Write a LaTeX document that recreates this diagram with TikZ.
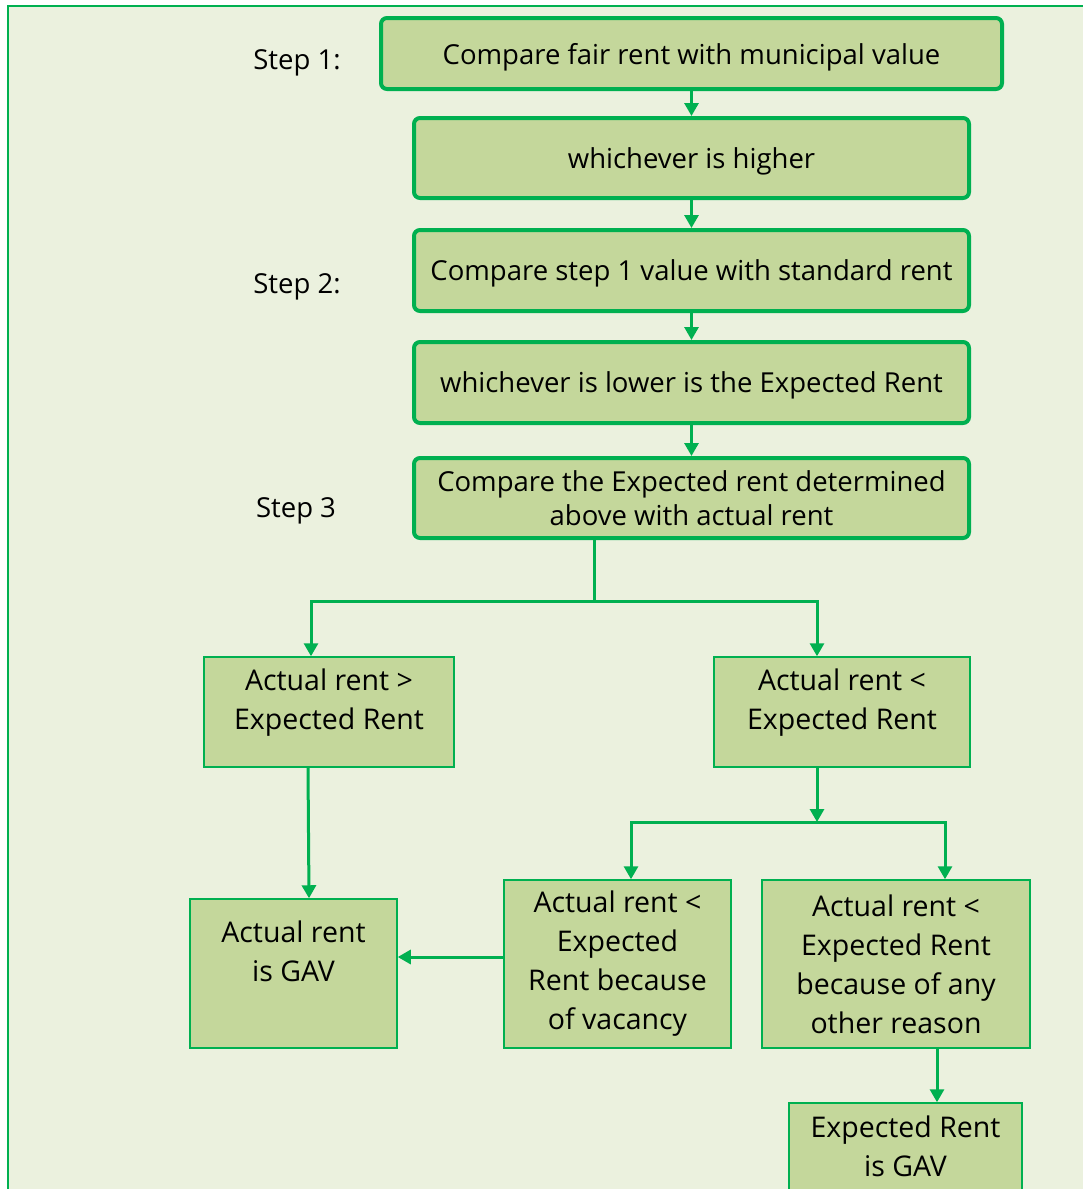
\documentclass[tikz,border=0pt]{standalone}
\usepackage{fontspec}
\setmainfont{Open Sans}
\usetikzlibrary{arrows.meta}
\definecolor{frameG}{HTML}{00B050}
\definecolor{bgG}{HTML}{EBF1DE}
\definecolor{boxG}{HTML}{C4D79B}
\newcommand{\topalign}[4]{\parbox[c][#1][t]{#2}{\centering\vspace{#3}#4}}
\tikzset{
  topbox/.style={draw=frameG, fill=boxG, line width=4pt, rounded corners=6pt, inner sep=0pt, align=center, font=\fontsize{27.5}{34}\selectfont},
  lowbox/.style={draw=frameG, fill=boxG, line width=1.5pt, inner sep=0pt, align=center, font=\fontsize{28.5}{39}\selectfont},
  steplbl/.style={font=\fontsize{27.5}{34}\selectfont, inner sep=0pt},
  conn/.style={draw=frameG, line width=3pt},
  arr/.style={conn, -{Triangle[width=14pt,length=13pt]}}
}
\begin{document}
\begin{tikzpicture}[x=1pt,y=-1pt]
\useasboundingbox (0,0) rectangle (1083,1189);
\fill[white] (0,0) rectangle (1083,1189);
\fill[bgG] (8,6) rectangle (1100,1200);
\draw[frameG, line width=2.5pt] (8,1200) -- (8,6) -- (1100,6);

\node[steplbl] (s1) at (297,63) {Step 1:};
\node[steplbl] (s2) at (297,287) {Step 2:};
\node[steplbl] (s3) at (296,511) {Step 3};

\node[topbox, text depth=0pt, minimum width=621pt, minimum height=71pt] (b1) at (691.5,53.5) {Compare fair rent with municipal value};
\node[topbox, text depth=0pt, minimum width=555pt, minimum height=80pt] (b2) at (691.5,158) {whichever is higher};
\node[topbox, text depth=0pt, minimum width=555pt, minimum height=81pt] (b3) at (691.5,270.5) {Compare step 1 value with standard rent};
\node[topbox, text depth=0pt, minimum width=555pt, minimum height=81pt] (b4) at (691.5,382.5) {whichever is lower is the Expected Rent};
\node[topbox, minimum width=555pt, minimum height=80pt] (b5) at (691.5,498) {Compare the Expected rent determined\\above with actual rent};

\node[lowbox, minimum width=250pt, minimum height=110pt] (l1) at (329,712) {\topalign{110pt}{250pt}{12pt}{Actual rent >\\Expected Rent}};
\node[lowbox, minimum width=256pt, minimum height=110pt] (r1) at (842,712) {\topalign{110pt}{256pt}{12pt}{Actual rent <\\Expected Rent}};
\node[lowbox, minimum width=207pt, minimum height=149pt] (gav) at (293.5,973.5) {\topalign{149pt}{207pt}{22pt}{Actual rent\\is GAV}};
\node[lowbox, minimum width=227pt, minimum height=168pt] (vac) at (617.5,964) {Actual rent <\\Expected\\Rent because\\of vacancy};
\node[lowbox, minimum width=268pt, minimum height=168pt] (oth) at (896,964) {Actual rent <\\Expected Rent\\because of any\\other reason};
\node[lowbox, minimum width=233pt, minimum height=90pt] (egav) at (905.5,1148) {\topalign{90pt}{233pt}{13pt}{Expected Rent\\is GAV}};

\coordinate (j1) at (594,601);
\coordinate (j2) at (817,822);
\coordinate (va) at ([yshift=7pt]vac.west);

\draw[arr] (b1) -- (b2);
\draw[arr] (b2) -- (b3);
\draw[arr] (b3) -- (b4);
\draw[arr] (b4) -- (b5);
\draw[conn] (b5.south -| j1) -- (j1);
\draw[arr] (j1) -| ([xshift=-18pt]l1.north);
\draw[arr] (j1) -| ([xshift=-25pt]r1.north);
\draw[arr] ([xshift=-21pt]l1.south) -- ([xshift=15.5pt]gav.north);
\draw[arr] (r1.south -| j2) -- (j2);
\draw[arr] (j2) -| ([xshift=13.5pt]vac.north);
\draw[arr] (j2) -| ([xshift=49pt]oth.north);
\draw[arr] (va) -- (va -| gav.east);
\draw[arr] ([xshift=41pt]oth.south) -- ([xshift=31.5pt]egav.north);
\end{tikzpicture}
\end{document}
